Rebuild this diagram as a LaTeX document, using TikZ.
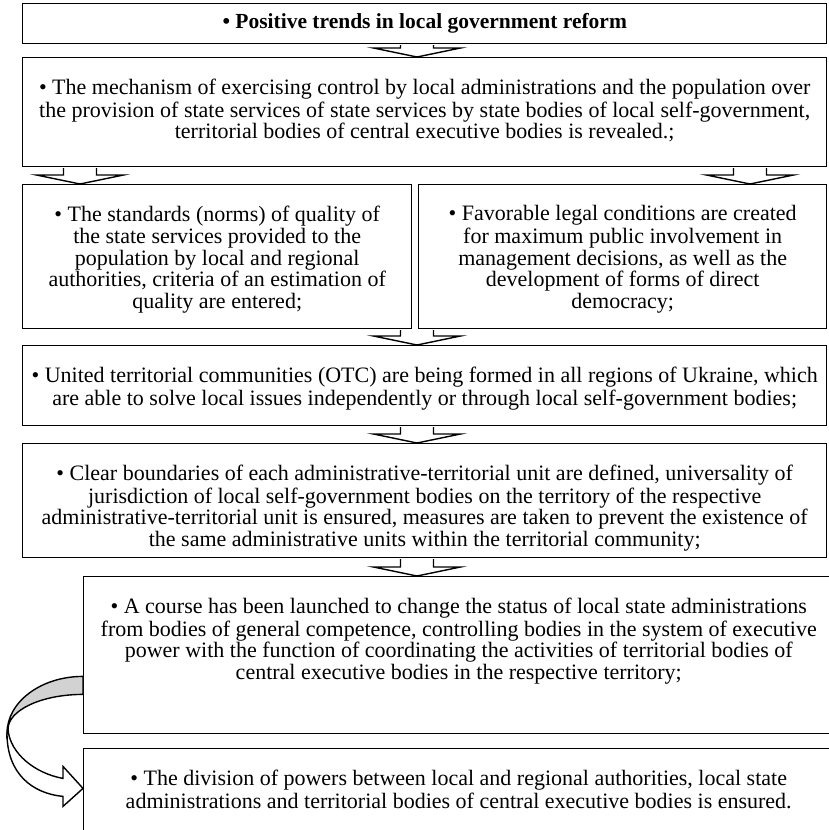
\documentclass[tikz,border=0pt]{standalone}
\usepackage{fontspec}
\setmainfont{Liberation Serif}
\usetikzlibrary{calc}

% text of a stage, set from the top of its box
\newcommand{\stagetext}[3]{\parbox[c][#2][t]{#1}{\centering\vspace*{21pt}\strut #3}}
% white block arrow from one box down to the next
\newcommand{\flowarrow}[2]{%
  \draw [flow] ($(#1)+(-16.5,0.7)$) -- ($(#2)+(-16.5,-9)$) -- ($(#2)+(-43.5,-9)$)
               -- (#2) -- ($(#2)+(43.5,-9)$) -- ($(#2)+(16.5,-9)$) -- ($(#1)+(16.5,0.7)$);}

\begin{document}
\begin{tikzpicture}[x=1pt, y=-1pt,
  stage/.style = {rectangle, draw, line width=1.4pt, inner sep=0pt, anchor=north west},
  flow/.style = {draw, fill=white, line width=1.4pt},
  font=\fontsize{22}{21.5}\selectfont]
  \clip (0, 0) rectangle (829, 830);

  % Stages.
  \node at (22, 3) [stage, minimum width=804pt, minimum height=40pt, name=Trends,
        font=\fontsize{21.5}{21.5}\selectfont]
        {\textbf{• Positive trends in local government reform}};
  \node at (22, 57) [stage, name=Control] {\stagetext{804pt}{109pt}{%
        • The mechanism of exercising control by local administrations and the population over\\
        the provision of state services of state services by state bodies of local self-government,\\
        territorial bodies of central executive bodies is revealed.;}};
  \node at (22, 184) [stage, name=Standards] {\stagetext{389pt}{144pt}{%
        • The standards (norms) of quality of\\
        the state services provided to the\\
        population by local and regional\\
        authorities, criteria of an estimation of\\
        quality are entered;}};
  \node at (418, 184) [stage, name=Legal] {\stagetext{408pt}{144pt}{%
        • Favorable legal conditions are created\\
        for maximum public involvement in\\
        management decisions, as well as the\\
        development of forms of direct\\
        democracy;}};
  \node at (22, 345) [stage, name=Communities] {\stagetext{804pt}{80pt}{%
        • United territorial communities (OTC) are being formed in all regions of Ukraine, which\\
        are able to solve local issues independently or through local self-government bodies;}};
  \node at (22, 443) [stage, name=Boundaries] {\stagetext{804pt}{114pt}{%
        • Clear boundaries of each administrative-territorial unit are defined, universality of\\
        jurisdiction of local self-government bodies on the territory of the respective\\
        administrative-territorial unit is ensured, measures are taken to prevent the existence of\\
        the same administrative units within the territorial community;}};
  \node at (83, 576) [stage, name=Course] {\stagetext{750pt}{157pt}{%
        • A course has been launched to change the status of local state administrations\\
        from bodies of general competence, controlling bodies in the system of executive\\
        power with the function of coordinating the activities of territorial bodies of\\
        central executive bodies in the respective territory;}};
  \node at (83, 748) [stage, name=Division] {\stagetext{750pt}{120pt}{%
        • The division of powers between local and regional authorities, local state\\
        administrations and territorial bodies of central executive bodies is ensured.}};

  % Axes of the block arrows.
  \coordinate (axis) at (417, 0);
  \coordinate (leftaxis) at (80, 0);
  \coordinate (rightaxis) at (750, 0);

  % Block arrows.
  \flowarrow{Trends.south -| axis}{Control.north -| axis}
  \flowarrow{Control.south -| leftaxis}{Standards.north -| leftaxis}
  \flowarrow{Control.south -| rightaxis}{Legal.north -| rightaxis}
  \flowarrow{Standards.south -| axis}{Communities.north -| axis}
  \flowarrow{Communities.south -| axis}{Boundaries.north -| axis}
  \flowarrow{Boundaries.south -| axis}{Course.north -| axis}

  % Curved arrow from Course to Division.
  \begin{scope}[shift={(Course.south west)}]
    \draw [line width=1.4pt, fill=gray!35]
          (0, -58) .. controls (-42, -58) and (-76, -32.5) .. (-76, -1)
          -- (-75, -5) .. controls (-75, -24.3) and (-41.4, -40) .. (0, -40) -- cycle;
    \draw [flow]
          (-76, -1) .. controls (-76, 39) and (-51, 59) .. (-20, 62)
          -- (-20, 72) -- (0, 54) -- (-20, 32) -- (-20, 44)
          .. controls (-48, 39) and (-73, 19) .. (-75, -5) -- cycle;
  \end{scope}
\end{tikzpicture}
\end{document}
